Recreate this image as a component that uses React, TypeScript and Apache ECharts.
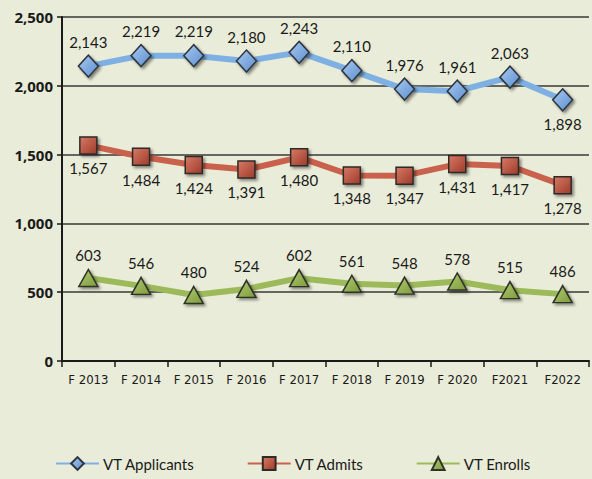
import React, { useEffect, useRef } from "react";
import * as echarts from "echarts";

const categories = ["F 2013", "F 2014", "F 2015", "F 2016", "F 2017", "F 2018", "F 2019", "F 2020", "F2021", "F2022"];
const applicants = [2143, 2219, 2219, 2180, 2243, 2110, 1976, 1961, 2063, 1898];
const admits = [1567, 1484, 1424, 1391, 1480, 1348, 1347, 1431, 1417, 1278];
const enrolls = [603, 546, 480, 524, 602, 561, 548, 578, 515, 486];
const yTicks = { min: 0, max: 2500, interval: 500 };

const fmt = (v: number) => v.toLocaleString("en-US");

const grad = (light: string, dark: string) =>
  new echarts.graphic.LinearGradient(0, 0, 1, 1, [
    { offset: 0, color: light },
    { offset: 1, color: dark },
  ]);

export default function App() {
  const ref = useRef<HTMLDivElement>(null);
  useEffect(() => {
    document.body.style.margin = "0";
    const chart = echarts.init(ref.current!, null, { renderer: "svg" });
    const labelFont = { fontFamily: "Lato, 'Open Sans', sans-serif", fontSize: 15, color: "#1a1a1a" };
    const shadow = { shadowColor: "rgba(0,0,0,0.45)", shadowBlur: 3, shadowOffsetX: 2, shadowOffsetY: 2 };
    chart.setOption({
      animation: false,
      backgroundColor: "#e9ecd8",
      grid: { left: 62, right: 3, top: 17, bottom: 118 },
      legend: {
        left: 55,
        top: 456,
        padding: 0,
        itemGap: 52,
        itemWidth: 43,
        itemHeight: 16,
        textStyle: { fontFamily: "Lato, 'Open Sans', sans-serif", fontSize: 15, color: "#1a1a1a", padding: [0, 0, 0, -1] },
        data: ["VT Applicants", "VT Admits", "VT Enrolls"],
      },
      xAxis: {
        type: "category",
        data: categories,
        boundaryGap: true,
        axisLine: { lineStyle: { color: "#1a1a1a", width: 2 } },
        axisTick: { show: true, length: 6, lineStyle: { color: "#1a1a1a", width: 1.5 } },
        axisLabel: {
          fontFamily: "'Liberation Sans Narrow', 'DejaVu Sans Condensed', sans-serif",
          fontSize: 13,
          color: "#1a1a1a",
          margin: 12,
        },
      },
      yAxis: {
        type: "value",
        min: yTicks.min,
        max: yTicks.max,
        interval: yTicks.interval,
        axisLine: { show: true, lineStyle: { color: "#1a1a1a", width: 2 } },
        axisTick: { show: true, length: 5, lineStyle: { color: "#1a1a1a", width: 1.5 } },
        splitLine: { lineStyle: { color: "#3a3a3a", width: 1.5 } },
        axisLabel: {
          fontFamily: "'Open Sans', Lato, sans-serif",
          fontWeight: "bold",
          fontSize: 15,
          color: "#1a1a1a",
          margin: 9,
          formatter: (v: number) => fmt(v),
        },
      },
      series: [
        {
          name: "VT Applicants",
          type: "line",
          data: applicants.map((v, i) =>
            i === applicants.length - 1 ? { value: v, label: { position: "bottom" } } : v
          ),
          symbol: "diamond",
          symbolSize: [20, 22],
          lineStyle: { color: "#7eb0e3", width: 6 },
          itemStyle: { color: grad("#a9c9f0", "#5b8fcf"), borderColor: "#2f3640", borderWidth: 1.5, ...shadow },
          label: { show: true, position: "top", distance: 5, formatter: (p: any) => fmt(p.value), ...labelFont },
          z: 3,
        },
        {
          name: "VT Admits",
          type: "line",
          data: admits,
          symbol: "rect",
          symbolSize: [17, 17],
          lineStyle: { color: "#c9614c", width: 6 },
          itemStyle: { color: grad("#d77a64", "#9e3a2b"), borderColor: "#2f2a28", borderWidth: 1.5, ...shadow },
          label: { show: true, position: "bottom", distance: 6, formatter: (p: any) => fmt(p.value), ...labelFont },
          z: 3,
        },
        {
          name: "VT Enrolls",
          type: "line",
          data: enrolls,
          symbol: "triangle",
          symbolSize: [19, 17],
          lineStyle: { color: "#9dba5b", width: 6 },
          itemStyle: { color: grad("#b2cc72", "#7d9a3c"), borderColor: "#2f3328", borderWidth: 1.5, ...shadow },
          label: { show: true, position: "top", distance: 6, formatter: (p: any) => fmt(p.value), ...labelFont },
          z: 3,
        },
      ],
    });
    return () => chart.dispose();
  }, []);
  return <div ref={ref} style={{ width: 592, height: 479 }} />;
}
